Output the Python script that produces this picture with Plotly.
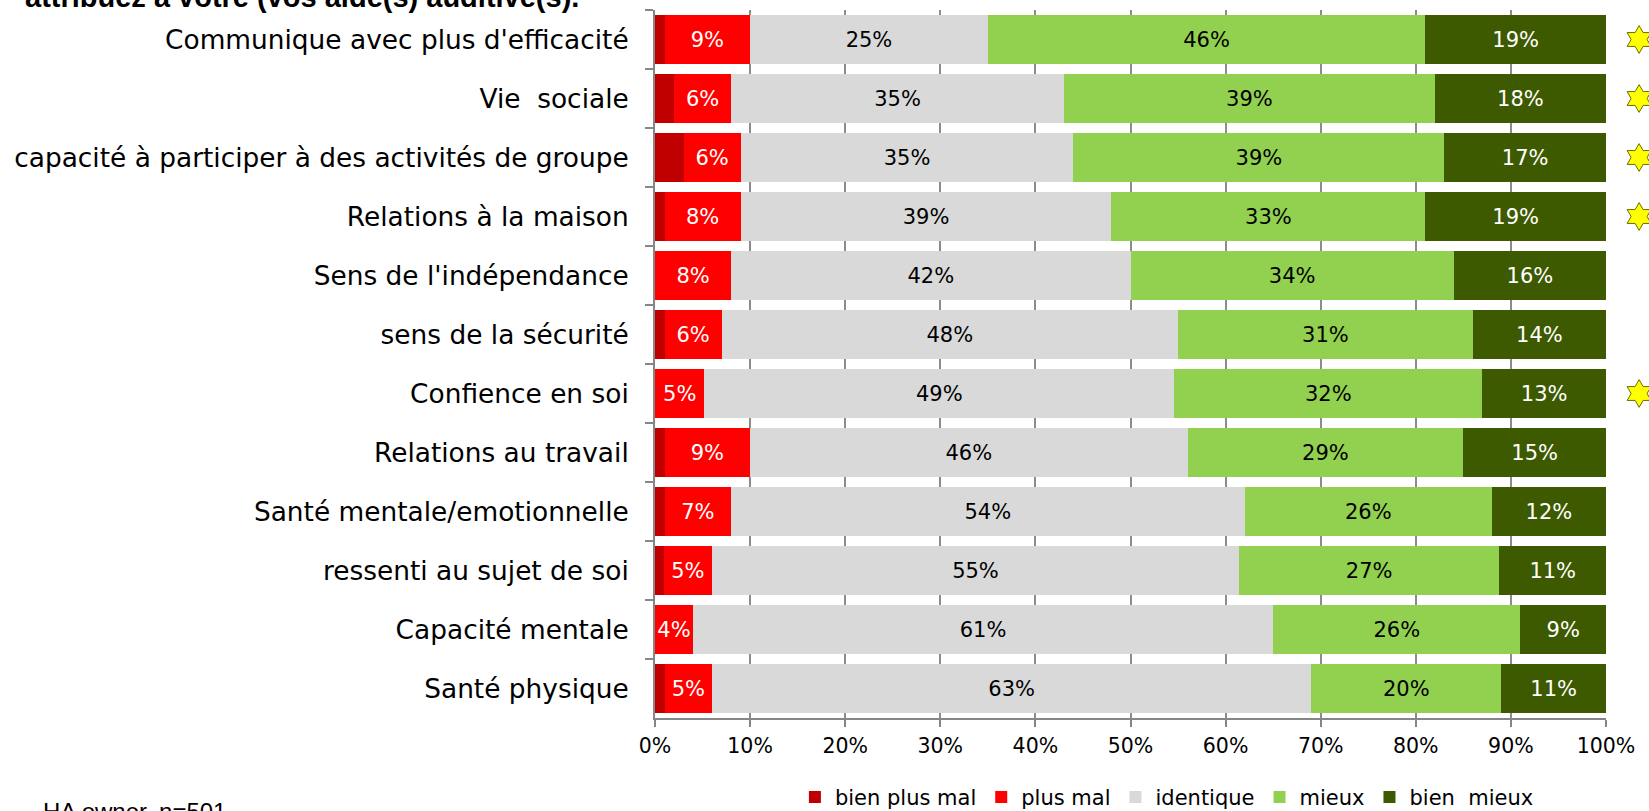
import plotly.graph_objects as go

# ----------------------------------------------------
categories = [
    "Communique avec plus d'efficacité",
    "Vie  sociale",
    "capacité à participer à des activités de groupe",
    "Relations à la maison",
    "Sens de l'indépendance",
    "sens de la sécurité",
    "Confience en soi",
    "Relations au travail",
    "Santé mentale/emotionnelle",
    "ressenti au sujet de soi",
    "Capacité mentale",
    "Santé physique",
]

bien_plus_mal = [1, 2, 3, 1, 0, 1, 0, 1, 1, 0.9, 0, 1]
plus_mal = [9, 6, 6, 8, 8, 6, 5.2, 9, 7, 5.1, 4, 5]
identique = [25, 35, 35, 39, 42, 48, 49.4, 46, 54, 55.4, 61, 63]
mieux = [46, 39, 39, 33, 34, 31, 32.4, 29, 26, 27.4, 26, 20]
bien_mieux = [19, 18, 17, 19, 16, 14, 13, 15, 12, 11.2, 9, 11]

# categories flagged with a star on the right
starred = [
    "Communique avec plus d'efficacité",
    "Vie  sociale",
    "capacité à participer à des activités de groupe",
    "Relations à la maison",
    "Confience en soi",
]

tick_vals = [0, 10, 20, 30, 40, 50, 60, 70, 80, 90, 100]
tick_text = ["0%", "10%", "20%", "30%", "40%", "50%", "60%", "70%", "80%", "90%", "100%"]

FONT = "DejaVu Sans"
BAR_DOMAIN = 951 / 994   # bars end 43px before the right edge, stars sit in that strip

series = [
    ("bien plus mal", bien_plus_mal, "#C00000", None),
    ("plus mal", plus_mal, "#FF0000", "white"),
    ("identique", identique, "#D9D9D9", "black"),
    ("mieux", mieux, "#92D050", "black"),
    ("bien  mieux", bien_mieux, "#3D5A00", "white"),
]

fig = go.Figure()

for name, vals, color, txtcolor in series:
    if txtcolor is None:
        text = ["" for v in vals]
    else:
        text = [f"{v:.0f}%" for v in vals]
    fig.add_trace(go.Bar(
        name=name,
        y=categories,
        x=vals,
        orientation='h',
        marker=dict(color=color, line=dict(width=0)),
        text=text,
        textposition='inside',
        insidetextanchor='middle',
        textangle=0,
        textfont=dict(family=FONT, size=21, color=txtcolor or "white"),
        hoverinfo='skip',
    ))

# stars to the right of the bars, on their own little x axis
fig.add_trace(go.Scatter(
    y=starred,
    x=[0.77] * len(starred),
    xaxis='x2',
    mode='markers',
    marker=dict(symbol='hexagram', size=21, color='#FFFF00',
                line=dict(color='#6B6B00', width=1)),
    cliponaxis=False,
    showlegend=False,
    hoverinfo='skip',
))

fig.update_layout(
    width=1649,
    height=811,
    barmode='stack',
    bargap=0.17,
    plot_bgcolor='white',
    paper_bgcolor='white',
    margin=dict(l=655, r=0, t=10, b=93, autoexpand=False),
    font=dict(family=FONT, color='black'),
    uniformtext=dict(mode='show', minsize=21),
    legend=dict(
        orientation='h',
        x=0.515, xanchor='center',
        y=-0.112, yanchor='middle',
        font=dict(family=FONT, size=21),
        itemwidth=30,
        traceorder='normal',
    ),
    xaxis=dict(
        domain=[0, BAR_DOMAIN],
        range=[0, 100],
        tickmode='array',
        tickvals=tick_vals,
        ticktext=tick_text,
        showgrid=True,
        gridcolor='#8C8C8C',
        gridwidth=1.5,
        zeroline=False,
        showline=True,
        linecolor='#868686',
        linewidth=2,
        ticks='outside',
        ticklen=7,
        tickwidth=2,
        tickcolor='#868686',
        ticklabelstandoff=1,
        tickfont=dict(family=FONT, size=20.5),
    ),
    xaxis2=dict(
        domain=[BAR_DOMAIN, 1],
        range=[0, 1],
        anchor='y',
        showgrid=False,
        zeroline=False,
        showline=False,
        showticklabels=False,
        ticks='',
    ),
    yaxis=dict(
        type='category',
        categoryorder='array',
        categoryarray=categories,
        # fixed (reversed) range so the star markers don't pad the top
        range=[len(categories) - 0.5, -0.5],
        autorange=False,
        showgrid=False,
        showline=True,
        linecolor='#868686',
        linewidth=2,
        ticks='outside',
        tickson='boundaries',
        ticklen=8,
        tickwidth=2,
        tickcolor='#868686',
        ticklabelstandoff=19,
        tickfont=dict(family=FONT, size=26.4),
    ),
)

# cut-off title line at the top and sample note at the bottom
fig.add_annotation(
    text="attribuez à votre (vos aide(s) auditive(s).",
    xref='paper', yref='paper',
    x=-0.6358, y=0.993, xanchor='left', yanchor='bottom',
    showarrow=False,
    font=dict(family="Liberation Sans", size=29, color='black', weight='bold'),
)
fig.add_annotation(
    text="HA owner, n=501",
    xref='paper', yref='paper',
    x=-0.6177, y=-0.110, xanchor='left', yanchor='top',
    showarrow=False,
    font=dict(family="Liberation Sans", size=24, color='black'),
)

# page body has a default 8px margin; drop it so the figure sits at the corner
fig.write_html(
    "out.html",
    config={'displayModeBar': False},
    post_script="document.body.style.margin='0px';",
)
